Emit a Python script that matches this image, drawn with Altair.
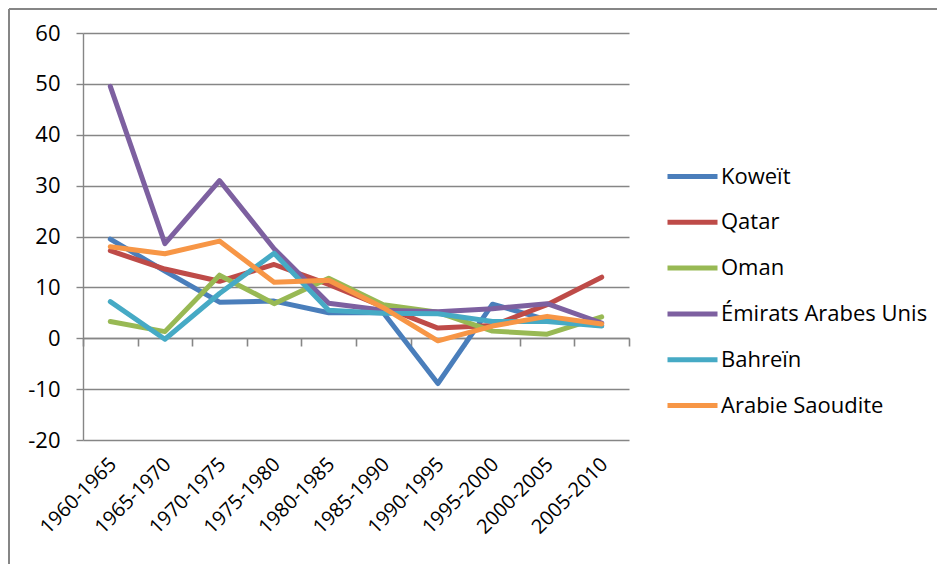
import altair as alt
import pandas as pd

periods = ["1960-1965", "1965-1970", "1970-1975", "1975-1980", "1980-1985",
           "1985-1990", "1990-1995", "1995-2000", "2000-2005", "2005-2010"]

series_names = ["Koweït", "Qatar", "Oman", "Émirats Arabes Unis", "Bahreïn", "Arabie Saoudite"]

koweit = [19.5, 13.2, 7.1, 7.3, 5.0, 5.0, -8.9, 6.7, 3.6, 2.5]
qatar = [17.2, 13.6, 11.2, 14.5, 10.6, 6.2, 2.0, 2.5, 6.6, 12.0]
oman = [3.3, 1.3, 12.4, 6.8, 11.8, 6.6, 5.1, 1.4, 0.8, 4.2]
emirats = [49.5, 18.6, 31.0, 17.6, 6.9, 5.5, 5.2, 5.8, 6.8, 3.0]
bahrein = [7.2, -0.2, 8.8, 16.7, 5.5, 4.9, 4.8, 3.3, 3.3, 2.4]
arabie = [18.0, 16.6, 19.1, 11.0, 11.4, 6.0, -0.5, 2.4, 4.3, 2.8]

colors = ["#4A7EBB", "#BE4B48", "#98B954", "#7D60A0", "#46AAC5", "#F79646"]

all_values = [koweit, qatar, oman, emirats, bahrein, arabie]
rows = []
for k, (name, vals) in enumerate(zip(series_names, all_values)):
    for p, v in zip(periods, vals):
        rows.append({"period": p, "value": v, "country": name, "order": k})
df = pd.DataFrame(rows)

FONT = "Open Sans"
GREY = "#868686"

x_scale = alt.Scale(type="band", paddingInner=0, paddingOuter=0)
y_scale = alt.Scale(domain=[-20, 60], nice=False, zero=False)

lines = alt.Chart(df).mark_line(strokeWidth=5, strokeCap="round", strokeJoin="round").encode(
    x=alt.X("period:N", sort=periods, scale=x_scale, bandPosition=0.5,
            axis=alt.Axis(orient="bottom", title=None, labelAngle=-45, labelAlign="right",
                          labelBaseline="middle", labelPadding=21, labelOffset=3,
                          ticks=False, domain=False,
                          grid=False, labelFontSize=20, labelFont=FONT, labelColor="#000000")),
    y=alt.Y("value:Q", scale=y_scale,
            axis=alt.Axis(title=None, values=list(range(-20, 61, 10)), grid=True,
                          gridColor=GREY, gridWidth=1.4, domain=True, domainColor=GREY,
                          domainWidth=1.4, ticks=True, tickSize=7, tickColor=GREY,
                          tickWidth=1.4, labelPadding=16, labelFontSize=22,
                          labelExpr="toString(datum.value)",
                          labelFont=FONT, labelColor="#000000")),
    color=alt.Color("country:N", sort=series_names,
                    scale=alt.Scale(domain=series_names, range=colors),
                    legend=alt.Legend(title=None, orient="none", legendX=582, legendY=116,
                                      symbolType="stroke", symbolSize=2500,
                                      symbolStrokeWidth=5, labelFontSize=22, labelFont=FONT,
                                      labelColor="#000000", labelOffset=1, rowPadding=6.8,
                                      labelLimit=400)),
    order=alt.Order("order:Q"),
    detail="country:N",
)

zero_axis = alt.Chart(df).mark_point(opacity=0).encode(
    x=alt.X("period:N", sort=periods, scale=x_scale, bandPosition=0.5,
            axis=alt.Axis(orient="bottom", offset=-102, title=None, labels=False,
                          ticks=True, tickBand="extent", tickSize=8, tickColor=GREY,
                          tickWidth=1.6, domain=True, domainColor=GREY, domainWidth=1.4,
                          grid=False)),
    y=alt.Y("value:Q", scale=y_scale),
)

frame_top = alt.Chart(alt.Data(values=[{"a": 1}])).mark_rule(
    stroke=GREY, strokeWidth=2
).encode(x=alt.value(-74), x2=alt.value(1000), y=alt.value(-24))

frame_left = alt.Chart(alt.Data(values=[{"a": 1}])).mark_rule(
    stroke=GREY, strokeWidth=2
).encode(x=alt.value(-74), y=alt.value(-24), y2=alt.value(1000))

chart = alt.layer(frame_top, frame_left, lines, zero_axis).resolve_axis(x="independent").properties(
    width=546, height=407,
    autosize=alt.AutoSizeParams(type="none"),
    padding={"left": 75, "top": 25, "right": 308, "bottom": 124},
).configure_view(stroke=None)

chart.save("out.html", embed_options={"renderer": "svg", "actions": False})
